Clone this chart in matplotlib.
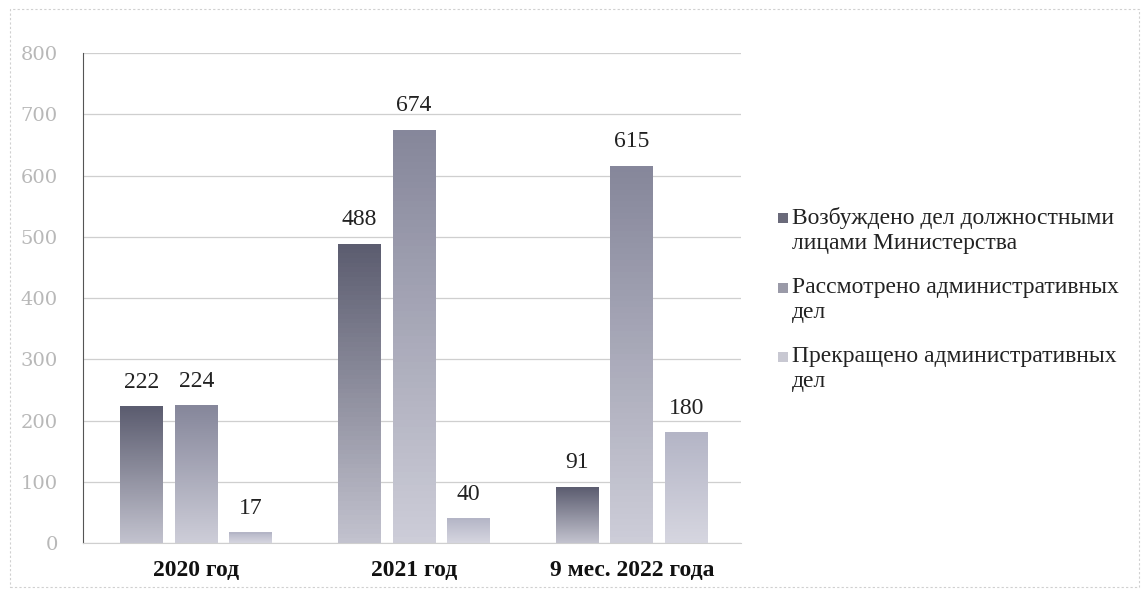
import numpy as np
import matplotlib.pyplot as plt
from matplotlib.patches import Rectangle
from matplotlib.colors import LinearSegmentedColormap

categories = ['2020 год', '2021 год', '9 мес. 2022 года']
series_names = ['Возбуждено дел должностными\nлицами Министерства',
                'Рассмотрено административных\nдел',
                'Прекращено административных\nдел']
vozbuzhdeno = [222, 488, 91]
rassmotreno = [224, 674, 615]
prekrashcheno = [17, 40, 180]
y_ticks = [0, 100, 200, 300, 400, 500, 600, 700, 800]

series = [vozbuzhdeno, rassmotreno, prekrashcheno]
# top colour, bottom colour for the gradient of each series
grads = [('#5c5d70', '#c2c2ce'), ('#86879b', '#cdcdd8'), ('#b4b5c6', '#d6d6e0')]
legend_cols = ['#6a6a7a', '#9a9aa8', '#c8c8d2']

fig = plt.figure(figsize=(11.46, 5.93), dpi=100)
ax = fig.add_axes([0.0724, 0.0843, 0.574, 0.8263])

x = np.arange(len(categories))
width = 0.197
step = 0.25
grad = np.linspace(1, 0, 64).reshape(-1, 1)

for i, vals in enumerate(series):
    cmap = LinearSegmentedColormap.from_list('g%d' % i, [grads[i][1], grads[i][0]])
    for j, v in enumerate(vals):
        x0 = x[j] + (i - 1) * step - width / 2
        ax.imshow(grad, cmap=cmap, aspect='auto', extent=(x0, x0 + width, 0, v),
                  zorder=2, vmin=0, vmax=1)
        ax.add_patch(Rectangle((x0, v - 2), width, 3, color=grads[i][0], lw=0, zorder=3))
        ax.text(x0 + width / 2, v + 40, str(v), ha='center', va='center',
                fontsize=17, family='Liberation Serif', color='#222222')

ax.set_xlim(-0.52, 2.5)
ax.set_ylim(0, 800)
ax.set_yticks(y_ticks)
ax.set_yticklabels([str(t) for t in y_ticks], fontsize=14, family='DejaVu Serif',
                   color='#b8b8b8', fontweight='light')
ax.set_xticks(x)
ax.set_xticklabels(categories, fontsize=17, family='Liberation Serif',
                   fontweight='bold', color='#111111')
ax.tick_params(axis='y', length=0, pad=18)
ax.tick_params(axis='x', length=0, pad=12)
ax.grid(axis='y', color='#cfcfcf', lw=0.9, zorder=0)
ax.set_axisbelow(True)
for s in ['top', 'right']:
    ax.spines[s].set_visible(False)
ax.spines['left'].set_color('#555555')
ax.spines['bottom'].set_color('#cfcfcf')

# legend drawn by hand so the marker sits on the first line of each entry
leg_y = [218, 288, 357]
for name, col, yy in zip(series_names, legend_cols, leg_y):
    fy = 1 - yy / 593
    fig.patches.append(Rectangle((778 / 1146, fy - 5 / 593), 10 / 1146, 10 / 593,
                                 transform=fig.transFigure, color=col, lw=0))
    fig.text(792 / 1146, fy + 11 / 593, name, ha='left', va='top', fontsize=17,
             family='Liberation Serif', color='#222222', linespacing=1.25)

fig.patches.append(Rectangle((0.009, 0.01), 0.985, 0.975, transform=fig.transFigure,
                             fill=False, ec='#d0d0d0', lw=0.8, ls=(0, (2, 2))))

fig.savefig('out.png', dpi=100)
